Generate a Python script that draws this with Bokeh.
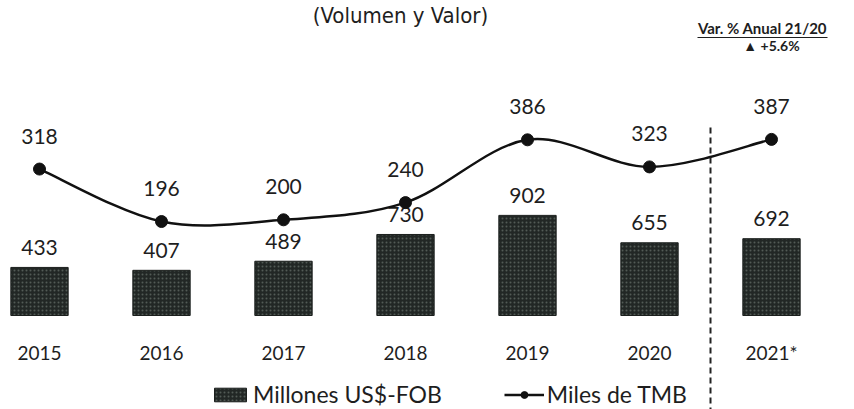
from bokeh.plotting import figure
from bokeh.models import Range1d, ColumnDataSource, Legend, LegendItem
from bokeh.core.properties import value
from bokeh.embed import file_html
from bokeh.resources import INLINE

# ---------------- data ----------------
years = ["2015", "2016", "2017", "2018", "2019", "2020", "2021*"]
valor = [433, 407, 489, 730, 902, 655, 692]          # Millones US$-FOB (bars)
volumen = [318, 196, 200, 240, 386, 323, 387]        # Miles de TMB (line)
title_text = "(Volumen y Valor)"
var_title = "Var. % Anual 21/20"
var_value = "\u25B2 +5.6%"
bar_label = "Millones US$-FOB"
line_label = "Miles de TMB"

# ---------------- layout constants (pixels on canvas) ----------------
W, H = 854, 409
X0, DX = 39.0, 122.0            # first category centre, category spacing
BAR_ZERO, BAR_K = 315.0, 0.111  # bar baseline (px from top), px per unit
LINE_ZERO, LINE_K = 305.3, 0.43

xs = list(range(len(years)))

def xd(px):
    return (px - X0) / DX

def yb(py):
    return (BAR_ZERO - py) / BAR_K

p = figure(width=W, height=H, output_backend="svg", toolbar_location=None,
           x_range=Range1d(xd(0), xd(W)), y_range=Range1d(yb(H), yb(0)),
           min_border=0, min_border_left=0, min_border_right=0,
           min_border_top=0, min_border_bottom=0)
p.extra_y_ranges = {"line": Range1d(-(H - LINE_ZERO) / LINE_K, LINE_ZERO / LINE_K)}
p.xaxis.visible = False
p.yaxis.visible = False
p.xgrid.visible = False
p.ygrid.visible = False
p.outline_line_color = None
p.background_fill_color = "white"
p.border_fill_color = "white"

FONT = value("Lato")
NARROW = value("'Liberation Sans Narrow', 'DejaVu Sans Condensed', 'Roboto', sans-serif")
TXT = "#1e1e1e"

# bars
src = ColumnDataSource(dict(x=xs, top=valor, lab=[str(v) for v in valor]))
bars = p.vbar(x="x", top="top", bottom=0, width=0.47, source=src,
              fill_color="#222725", line_color="#1b1f1d", line_width=1,
              hatch_pattern="dot", hatch_color="#8f9893", hatch_alpha=0.45,
              hatch_scale=4, hatch_weight=1)
p.text(x="x", y="top", text="lab", source=src, text_font=FONT,
       text_font_size="21px", text_color=TXT, text_align="center",
       text_baseline="middle", y_offset=-20)

# smooth line (Catmull-Rom -> Bezier)
n = len(volumen)
P = [(xs[i], volumen[i]) for i in range(n)]
def pt(i):
    return P[min(max(i, 0), n - 1)]
bz = dict(x0=[], y0=[], x1=[], y1=[], cx0=[], cy0=[], cx1=[], cy1=[])
for i in range(n - 1):
    a, b, c, d = pt(i - 1), pt(i), pt(i + 1), pt(i + 2)
    bz["x0"].append(b[0]); bz["y0"].append(b[1])
    bz["x1"].append(c[0]); bz["y1"].append(c[1])
    bz["cx0"].append(b[0] + (c[0] - a[0]) / 6); bz["cy0"].append(b[1] + (c[1] - a[1]) / 6)
    bz["cx1"].append(c[0] - (d[0] - b[0]) / 6); bz["cy1"].append(c[1] - (d[1] - b[1]) / 6)
curve = p.bezier(x0="x0", y0="y0", x1="x1", y1="y1", cx0="cx0", cy0="cy0",
                 cx1="cx1", cy1="cy1", source=ColumnDataSource(bz),
                 line_color="#111111", line_width=2.5, y_range_name="line")
lsrc = ColumnDataSource(dict(x=xs, y=volumen, lab=[str(v) for v in volumen]))
dots = p.scatter(x="x", y="y", source=lsrc, size=12, fill_color="#111111",
                 line_color="#111111", y_range_name="line")
p.text(x="x", y="y", text="lab", source=lsrc, text_font=FONT,
       text_font_size="21px", text_color=TXT, text_align="center",
       text_baseline="middle", y_offset=-33, y_range_name="line")

# year labels
ysrc = ColumnDataSource(dict(x=xs, y=[yb(352)] * n, lab=years))
p.text(x="x", y="y", text="lab", source=ysrc, text_font=FONT,
       text_font_size="19px", text_color=TXT, text_align="center",
       text_baseline="middle")

# dashed separator between 2020 and 2021*
sep_x = (xs[-2] + xs[-1]) / 2
p.segment(x0=[sep_x], y0=[yb(127)], x1=[sep_x], y1=[yb(H)],
          line_color="#222222", line_width=2, line_dash="6 4")

# title and annotation texts
p.text(x=[xd(400)], y=[yb(15)], text=[title_text],
       text_font=NARROW, text_font_size="22px",
       text_color=TXT, text_align="center", text_baseline="middle")
p.text(x=[xd(762)], y=[yb(27)], text=[var_title], text_font=FONT,
       text_font_size="15px", text_font_style="bold", text_color=TXT,
       text_align="center", text_baseline="middle")
p.segment(x0=[xd(697)], y0=[yb(37)], x1=[xd(827)], y1=[yb(37)],
          line_color=TXT, line_width=1.2)
p.text(x=[xd(771)], y=[yb(45)], text=[var_value], text_font=FONT,
       text_font_size="14px", text_font_style="bold", text_color=TXT,
       text_align="center", text_baseline="middle")

# legend
legend = Legend(items=[LegendItem(label=bar_label, renderers=[bars]),
                       LegendItem(label=line_label, renderers=[curve, dots])],
                orientation="horizontal", location=(210, 1),
                glyph_width=40, glyph_height=17, label_standoff=3,
                spacing=62, padding=0, margin=0, border_line_color=None,
                background_fill_alpha=0, label_text_font="Lato",
                label_text_font_size="23px", label_text_color=TXT,
                label_height=20)
p.add_layout(legend)

open("out.html", "w").write(file_html(p, INLINE))
